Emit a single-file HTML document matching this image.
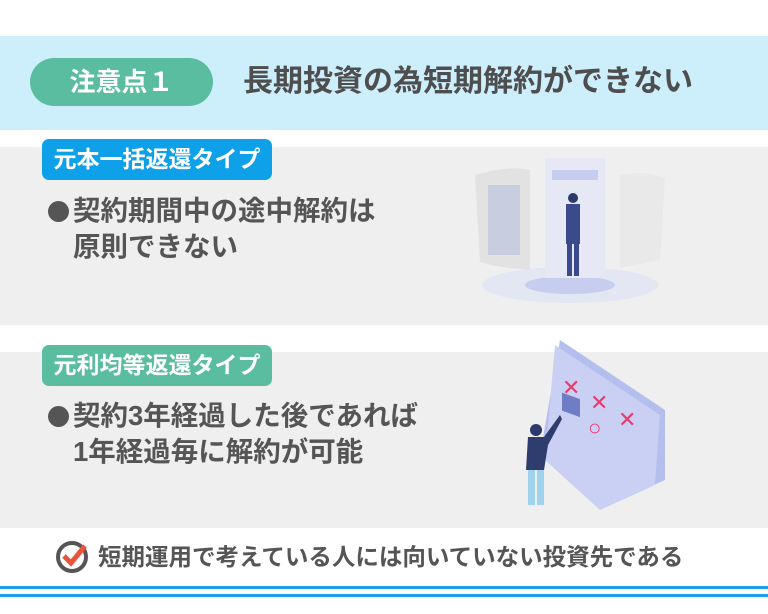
<!DOCTYPE html>
<html><head><meta charset="utf-8"><style>
body{margin:0;width:768px;height:614px;background:#fff;position:relative;overflow:hidden;font-family:"Liberation Sans","Noto Sans CJK JP",sans-serif;}
div{position:absolute;}
.t{white-space:nowrap;color:#555;font-weight:bold;}
.dot{width:21px;height:21px;border-radius:50%;background:#555;}
</style></head><body>
<div style="left:0;top:36px;width:768px;height:94px;background:#cdeffc"></div>
<div style="left:30px;top:58px;width:183px;height:48px;border-radius:24px;background:#5bbd9f;color:#fff;font-size:26px;font-weight:bold;line-height:48px;text-align:center">注意点１</div>
<div class="t" style="left:243px;top:63px;font-size:30px;line-height:38px;color:#4e4e4e">長期投資の為短期解約ができない</div>

<div style="left:0;top:147px;width:768px;height:178px;background:#efefef"></div>
<div style="left:42px;top:139px;width:230px;height:41px;border-radius:7px;background:#0ea0e8;color:#fff;font-size:23px;font-weight:bold;line-height:41px;text-align:center">元本一括返還タイプ</div>
<div class="dot" style="left:48px;top:201px"></div>
<div class="t" style="left:73px;top:193px;font-size:27.5px;line-height:36px">契約期間中の途中解約は<br>原則できない</div>

<svg style="position:absolute;left:470px;top:150px" width="200" height="160">
<ellipse cx="100" cy="135" rx="88" ry="18" fill="#e3e6f3"/>
<ellipse cx="100" cy="135" rx="45" ry="9" fill="#c7cdee"/>
<path d="M5 25 Q40 15 60 20 L60 120 Q30 118 10 112 Z" fill="#e2e2e2"/>
<rect x="18" y="35" width="32" height="70" fill="#c9cde0"/>
<rect x="75" y="8" width="60" height="120" fill="#e6e9f5"/>
<rect x="82" y="20" width="46" height="10" fill="#c7cdee"/>
<path d="M150 25 Q175 20 195 28 L190 110 L150 118 Z" fill="#e9e9e9"/>
<circle cx="103" cy="48" r="5" fill="#2c3a6b"/>
<rect x="96" y="54" width="14" height="40" fill="#3a4a8a"/>
<rect x="97" y="94" width="5" height="32" fill="#3a4a8a"/><rect x="104" y="94" width="5" height="32" fill="#3a4a8a"/>
</svg>

<div style="left:0;top:352px;width:768px;height:176px;background:#efefef"></div>
<div style="left:42px;top:345px;width:230px;height:41px;border-radius:7px;background:#5bbd9f;color:#fff;font-size:23px;font-weight:bold;line-height:41px;text-align:center">元利均等返還タイプ</div>
<div class="dot" style="left:48px;top:406px"></div>
<div class="t" style="left:73px;top:398px;font-size:27.5px;line-height:36px">契約3年経過した後であれば<br>1年経過毎に解約が可能</div>

<svg style="position:absolute;left:500px;top:335px" width="180" height="180">
<path d="M60 5 L165 75 L165 145 L110 170 L40 120 Z" fill="#b5bfee"/>
<path d="M55 10 L160 80 L155 150 L100 175 L45 125 Z" fill="#c9d0f3"/>
<rect x="62" y="35" width="18" height="18" fill="#6f7dc4" transform="skewY(20)"/>
<text x="62" y="60" font-size="22" fill="#e83c6e" font-family="Liberation Sans">✕</text>
<text x="90" y="75" font-size="22" fill="#e83c6e" font-family="Liberation Sans">✕</text>
<text x="118" y="92" font-size="22" fill="#e83c6e" font-family="Liberation Sans">✕</text>
<text x="88" y="100" font-size="22" fill="#e83c6e" font-family="Liberation Sans">○</text>
<circle cx="36" cy="95" r="6" fill="#2c3a6b"/>
<path d="M28 102 L44 102 L60 80 L62 84 L48 110 L44 135 L26 135 Z" fill="#2f3d6e"/>
<rect x="28" y="135" width="7" height="35" fill="#9fd2ec"/><rect x="37" y="135" width="7" height="35" fill="#9fd2ec"/>
</svg>

<svg style="position:absolute;left:55px;top:539px" width="36" height="36">
<circle cx="17" cy="18" r="14" fill="none" stroke="#555" stroke-width="4"/>
<path d="M9 17 L16 24 L30 7" fill="none" stroke="#e8553c" stroke-width="5"/>
</svg>
<div class="t" style="left:98px;top:542px;font-size:23.5px;line-height:30px">短期運用で考えている人には向いていない投資先である</div>

<div style="left:0;top:586px;width:768px;height:3px;background:#1aa0e8"></div>
<div style="left:0;top:594px;width:768px;height:3px;background:#1aa0e8"></div>
</body></html>
